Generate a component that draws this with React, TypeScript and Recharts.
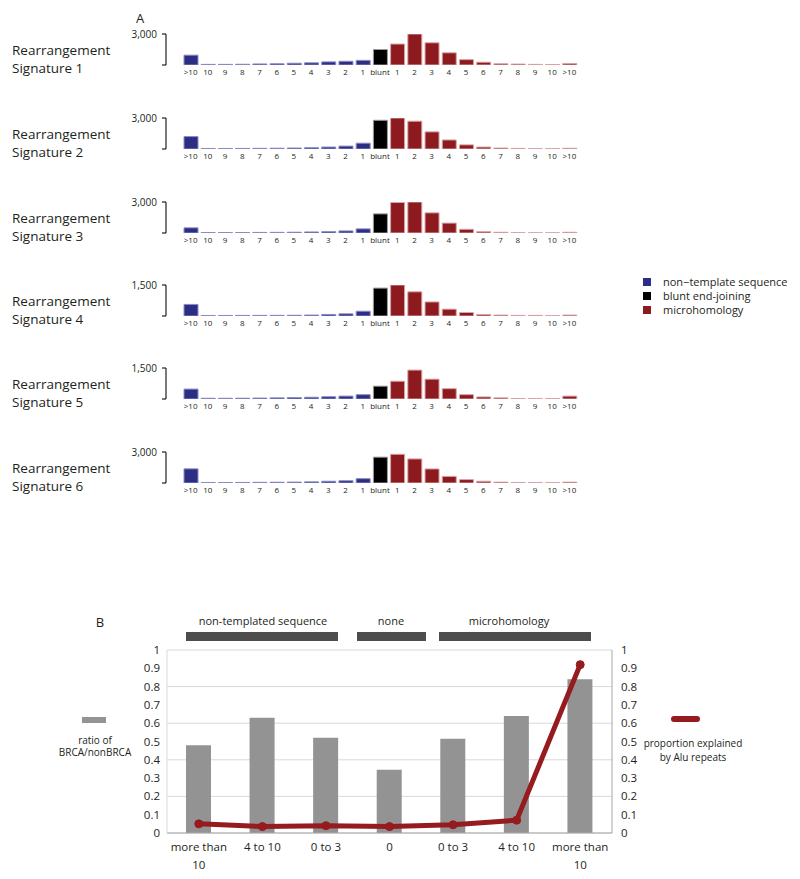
import React from 'react';
import { BarChart, Bar, XAxis, YAxis, Cell, ComposedChart, Line, CartesianGrid } from 'recharts';

const FONT = '"Open Sans", sans-serif';
const INK = '#231f20';

// ---------- Panel A data ----------
const categories = ['>10', '10', '9', '8', '7', '6', '5', '4', '3', '2', '1', 'blunt', '1', '2', '3', '4', '5', '6', '7', '8', '9', '10', '>10'];
const groupOf = ['nt', 'nt', 'nt', 'nt', 'nt', 'nt', 'nt', 'nt', 'nt', 'nt', 'nt', 'blunt', 'mh', 'mh', 'mh', 'mh', 'mh', 'mh', 'mh', 'mh', 'mh', 'mh', 'mh'];
const groupColors: Record<string, string> = { nt: '#2b2e82', blunt: '#000000', mh: '#8c1a1e' };
const groupEdges: Record<string, string> = { nt: '#8a8cc4', blunt: '#9a9a9a', mh: '#d9a4a6' };
const legendLabels = ['non\u2212template sequence', 'blunt end-joining', 'microhomology'];
const legendGroups = ['nt', 'blunt', 'mh'];

const sigNames = ['Signature 1', 'Signature 2', 'Signature 3', 'Signature 4', 'Signature 5', 'Signature 6'];
const sigMax = [3000, 3000, 3000, 1500, 1500, 3000];
const sigMaxLabels = ['3,000', '3,000', '3,000', '1,500', '1,500', '3,000'];

const sig1 = [950, 60, 60, 70, 100, 120, 170, 210, 300, 360, 450, 1500, 2030, 3000, 2150, 1180, 520, 270, 120, 90, 60, 50, 150];
const sig2 = [1200, 50, 50, 55, 65, 75, 95, 125, 190, 280, 560, 2780, 3000, 2690, 1660, 875, 400, 190, 95, 60, 30, 30, 70];
const sig3 = [500, 40, 40, 45, 55, 65, 75, 100, 130, 200, 400, 1850, 2950, 3000, 1950, 960, 360, 130, 70, 30, 20, 20, 70];
const sig4 = [560, 25, 25, 28, 30, 32, 35, 45, 75, 105, 230, 1350, 1500, 1170, 680, 330, 170, 75, 45, 30, 30, 15, 45];
const sig5 = [480, 35, 35, 38, 45, 55, 70, 85, 110, 140, 210, 620, 860, 1400, 960, 500, 210, 100, 55, 25, 20, 20, 140];
const sig6 = [1370, 50, 50, 55, 65, 75, 85, 110, 170, 220, 420, 2500, 2780, 2330, 1360, 640, 330, 170, 85, 50, 40, 30, 85];
const signatures = [sig1, sig2, sig3, sig4, sig5, sig6];

// ---------- Panel B data ----------
const bLabels = ['more than\n10', '4 to 10', '0 to 3', '0', '0 to 3', '4 to 10', 'more than\n10'];
const ratioValues = [0.48, 0.63, 0.52, 0.345, 0.515, 0.64, 0.84];
const aluValues = [0.05, 0.035, 0.04, 0.035, 0.045, 0.07, 0.92];
const bTicks = [0, 0.1, 0.2, 0.3, 0.4, 0.5, 0.6, 0.7, 0.8, 0.9, 1];
const headerLabels = ['non-templated sequence', 'none', 'microhomology'];

// layout
const rowTops = [34, 118, 202, 285, 368, 452];
const PLOT_H = 31;
const CHART_MT = 10;

const SigChart = ({ idx }: { idx: number }) => {
  const values = signatures[idx];
  const data = categories.map((c, i) => ({ id: i, v: values[i], g: groupOf[i] }));
  const max = sigMax[idx];
  const yTick = (props: any) => {
    const { x, y, payload } = props;
    if (payload.value !== max) return <g />;
    return (
      <text x={x} y={y} dy="0.355em" textAnchor="end" fontSize={10} fill={INK} fontFamily={FONT}>
        {sigMaxLabels[idx]}
      </text>
    );
  };
  return (
    <div style={{ position: 'absolute', left: 0, top: rowTops[idx] - CHART_MT }}>
      <BarChart
        width={600}
        height={CHART_MT + PLOT_H + 22}
        data={data}
        margin={{ top: CHART_MT, right: 22, bottom: 0, left: 126 }}
        barSize={14}
      >
        <XAxis
          dataKey="id"
          type="category"
          interval={0}
          tickFormatter={(v: number) => categories[v]}
          axisLine={false}
          tickLine={false}
          tickSize={0}
          tickMargin={4}
          height={22}
          padding={{ left: 16, right: 0 }}
          tick={{ fontSize: 8, fill: INK, fontFamily: FONT }}
        />
        <YAxis
          width={40}
          domain={[0, max]}
          ticks={[0, max]}
          allowDataOverflow
          axisLine={{ stroke: INK, strokeWidth: 1.2 }}
          tickLine={{ stroke: INK, strokeWidth: 1.2 }}
          tickSize={4}
          tickMargin={5}
          tick={yTick}
        />
        <Bar dataKey="v" isAnimationActive={false} strokeWidth={1}>
          {data.map((d, i) => (
            <Cell key={i} fill={groupColors[d.g]} stroke={groupEdges[d.g]} />
          ))}
        </Bar>
      </BarChart>
    </div>
  );
};

const XTickB = (props: any) => {
  const { x, y, payload } = props;
  const lines = bLabels[payload.value].split('\n');
  return (
    <text x={x} y={y} textAnchor="middle" fontSize={11.5} fill={INK} fontFamily={FONT}>
      {lines.map((l, i) => (
        <tspan key={i} x={x} dy={i === 0 ? '0.71em' : '1.55em'}>
          {l}
        </tspan>
      ))}
    </text>
  );
};

const PanelB = () => {
  const data = bLabels.map((l, i) => ({ id: i, ratio: ratioValues[i], alu: aluValues[i] }));
  const fmt = (v: number) => String(+v.toFixed(1));
  return (
    <div style={{ position: 'absolute', left: 0, top: 600 }}>
      <ComposedChart width={800} height={279} data={data} margin={{ top: 50, right: 148, bottom: 6, left: 127 }}>
        <CartesianGrid vertical={false} stroke="#d9d9d9" strokeWidth={1} />
        <XAxis
          dataKey="id"
          type="category"
          interval={0}
          height={40}
          axisLine={{ stroke: '#a6a6a6' }}
          tickLine={false}
          tickSize={0}
          tickMargin={10}
          tick={<XTickB />}
        />
        <YAxis
          width={40}
          domain={[0, 1]}
          ticks={bTicks}
          tickFormatter={fmt}
          axisLine={{ stroke: '#d9d9d9' }}
          tickLine={false}
          tickSize={0}
          tickMargin={7}
          tick={{ fontSize: 11.5, fill: INK, fontFamily: FONT }}
        />
        <YAxis
          yAxisId="right"
          orientation="right"
          width={40}
          domain={[0, 1]}
          ticks={bTicks}
          tickFormatter={fmt}
          axisLine={{ stroke: '#a6a6a6' }}
          tickLine={false}
          tickSize={0}
          tickMargin={9}
          tick={{ fontSize: 11.5, fill: INK, fontFamily: FONT }}
        />
        <Bar dataKey="ratio" fill="#939393" barSize={25} isAnimationActive={false} />
        <Line
          yAxisId="right"
          dataKey="alu"
          type="linear"
          stroke="#951b1f"
          strokeWidth={5}
          dot={{ r: 4, fill: '#951b1f', stroke: '#951b1f', strokeWidth: 1 }}
          isAnimationActive={false}
        />
      </ComposedChart>
    </div>
  );
};

const Overlay = () => {
  const headerBars = [
    { x: 186, w: 152, cx: 263 },
    { x: 357, w: 69, cx: 391 },
    { x: 439, w: 152, cx: 509 },
  ];
  return (
    <svg width={800} height={879} style={{ position: 'absolute', left: 0, top: 0 }} fontFamily={FONT}>
      <text x={140} y={23} textAnchor="middle" fontSize={13} fill={INK}>A</text>
      {sigNames.map((n, i) => (
        <g key={i}>
          <text x={12} y={rowTops[i] + 20.5} fontSize={13.5} fill={INK}>Rearrangement</text>
          <text x={12} y={rowTops[i] + 38.5} fontSize={13.5} fill={INK}>{n}</text>
        </g>
      ))}
      {legendLabels.map((l, i) => (
        <g key={i}>
          <rect x={643} y={278 + i * 14} width={8} height={8} fill={groupColors[legendGroups[i]]} />
          <text x={663} y={286 + i * 14} fontSize={11} fill={INK}>{l}</text>
        </g>
      ))}
      <text x={100} y={627} textAnchor="middle" fontSize={13} fill={INK}>B</text>
      {headerBars.map((h, i) => (
        <g key={i}>
          <text x={h.cx} y={625} textAnchor="middle" fontSize={11} fill={INK}>{headerLabels[i]}</text>
          <rect x={h.x} y={632} width={h.w} height={9} fill="#4d4d4d" />
        </g>
      ))}
      <rect x={82} y={717} width={24} height={6} fill="#939393" />
      <text x={95} y={743.5} textAnchor="middle" fontSize={10} fill={INK}>ratio of</text>
      <text x={95} y={756} textAnchor="middle" fontSize={10} fill={INK}>BRCA/nonBRCA</text>
      <line x1={674} y1={719} x2={697} y2={719} stroke="#951b1f" strokeWidth={6} strokeLinecap="round" />
      <text x={693} y={746.5} textAnchor="middle" fontSize={10} fill={INK}>proportion explained</text>
      <text x={693} y={760.5} textAnchor="middle" fontSize={10} fill={INK}>by Alu repeats</text>
    </svg>
  );
};

export default function App() {
  return (
    <div style={{ position: 'absolute', left: 0, top: 0, width: 800, height: 879, background: '#fff', overflow: 'hidden' }}>
      <Overlay />
      {signatures.map((_, i) => (
        <SigChart key={i} idx={i} />
      ))}
      <PanelB />
    </div>
  );
}
